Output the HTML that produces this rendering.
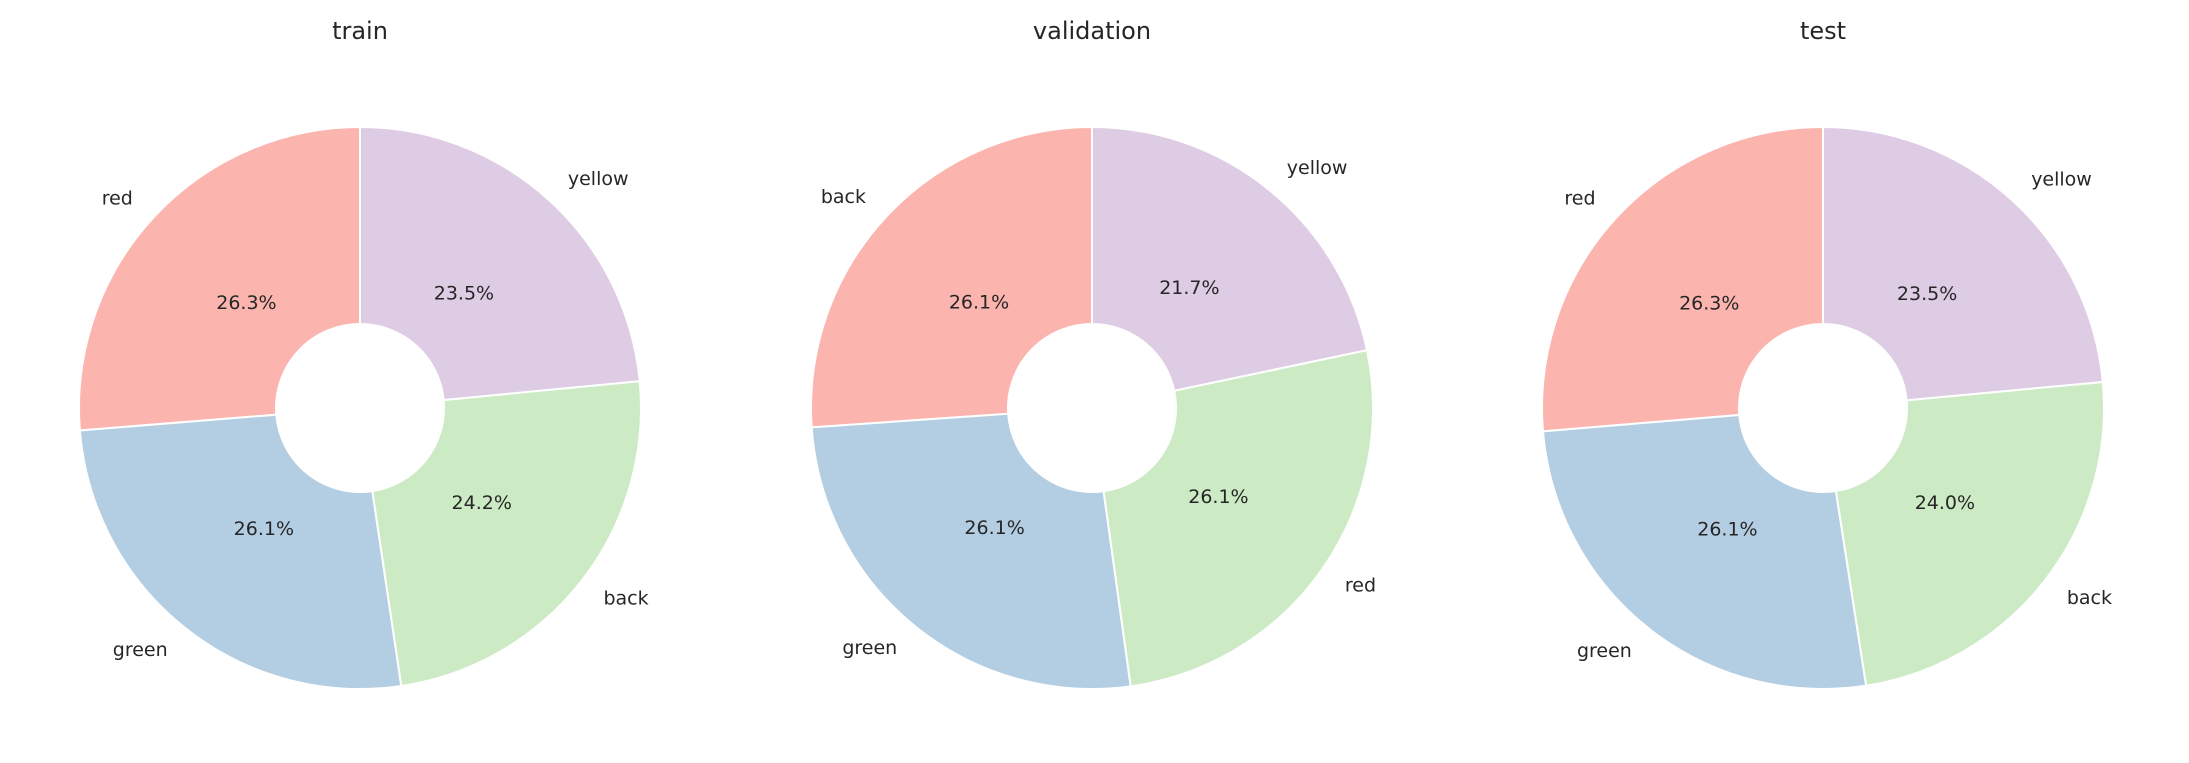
<!DOCTYPE html>
<html><head><meta charset="utf-8"><style>
html,body{margin:0;padding:0;background:#fff;}
svg{display:block;font-family:"DejaVu Sans","Liberation Sans",sans-serif;}
</style></head><body>
<svg id="chart" width="2189" height="763" viewBox="0 0 2189 763"></svg>
<script>
const panelTitles = ["train","validation","test"];
const trainLabels = ["red","green","back","yellow"];
const trainValues = [26.3,26.1,24.2,23.5];
const validationLabels = ["back","green","red","yellow"];
const validationValues = [26.1,26.1,26.1,21.7];
const testLabels = ["red","green","back","yellow"];
const testValues = [26.3,26.1,24.0,23.5];
const colors = ["#fbb4ae","#b3cde3","#ccebc5","#decbe4"];

const svg = document.getElementById('chart');
const NS = "http://www.w3.org/2000/svg";
const centersX = [360, 1092, 1823];
const CY = 408, R = 281, RIN = 84;
const datasets = [[trainLabels,trainValues],[validationLabels,validationValues],[testLabels,testValues]];

function pt(cx, r, a){ return [cx + r*Math.cos(a), CY - r*Math.sin(a)]; }

datasets.forEach(function(ds, p){
  const labels = ds[0], values = ds[1];
  const cx = centersX[p];
  const g = document.createElementNS(NS,'g');
  
  
  svg.appendChild(g);
  const t = document.createElementNS(NS,'text');
  
  
  t.setAttribute('x', cx); t.setAttribute('y', 39);
  t.setAttribute('text-anchor','middle'); t.setAttribute('font-size','24'); t.setAttribute('fill','#262626');
  t.textContent = panelTitles[p];
  g.appendChild(t);
  const total = values.reduce((a,b)=>a+b,0);
  let ang = Math.PI/2;
  values.forEach(function(v, i){
    const sweep = v/total*2*Math.PI;
    const a0 = ang, a1 = ang + sweep, mid = ang + sweep/2;
    const [x0,y0] = pt(cx,R,a0), [x1,y1] = pt(cx,R,a1);
    const [x2,y2] = pt(cx,RIN,a1), [x3,y3] = pt(cx,RIN,a0);
    const large = sweep > Math.PI ? 1 : 0;
    const path = document.createElementNS(NS,'path');
    
    
    path.setAttribute('d', `M${x0},${y0} A${R},${R} 0 ${large} 0 ${x1},${y1} L${x2},${y2} A${RIN},${RIN} 0 ${large} 1 ${x3},${y3} Z`);
    path.setAttribute('fill', colors[i]);
    path.setAttribute('stroke', '#fff');
    path.setAttribute('stroke-width', '2');
    g.appendChild(path);
    const [px,py] = pt(cx, R*0.55, mid);
    const pct = document.createElementNS(NS,'text');
    
    
    pct.setAttribute('x', px); pct.setAttribute('y', py);
    pct.setAttribute('text-anchor','middle'); pct.setAttribute('dominant-baseline','central');
    pct.setAttribute('font-size','19'); pct.setAttribute('fill','#262626');
    pct.textContent = v.toFixed(1) + '%';
    g.appendChild(pct);
    const [lx,ly] = pt(cx, R*1.1, mid);
    const lab = document.createElementNS(NS,'text');
    
    
    lab.setAttribute('x', lx); lab.setAttribute('y', ly);
    lab.setAttribute('text-anchor', Math.cos(mid) < 0 ? 'end' : 'start');
    lab.setAttribute('dominant-baseline','central');
    lab.setAttribute('font-size','19'); lab.setAttribute('fill','#262626');
    lab.textContent = labels[i];
    g.appendChild(lab);
    ang = a1;
  });
});
</script>
</body></html>
